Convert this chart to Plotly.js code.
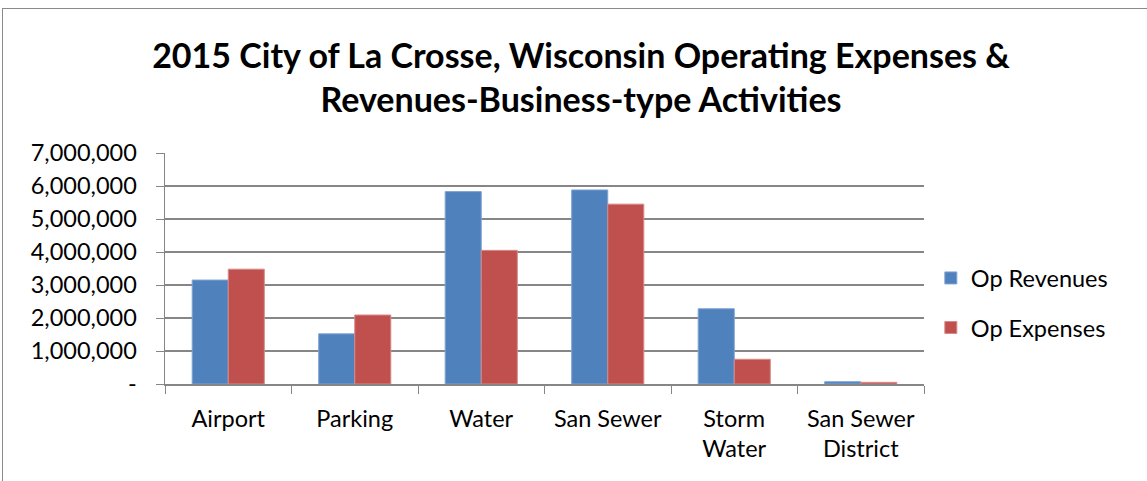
<!DOCTYPE html>
<html>
<head>
<meta charset="utf-8">
<script src="https://cdn.plot.ly/plotly-3.0.1.min.js"></script>
<style>
html,body{margin:0;padding:0;background:#fff;overflow:hidden;}
#chart{width:1147px;height:481px;position:absolute;left:0;top:0;}
#frame{position:absolute;left:2px;top:8px;width:1200px;height:600px;border:1.5px solid #8a8a8a;pointer-events:none;}
</style>
</head>
<body>
<div id="chart"></div>
<div id="frame"></div>
<script>
const categories = ["Airport", "Parking", "Water", "San Sewer", "Storm<br>Water", "San Sewer<br>District"];
const opRevenues = [3150000, 1520000, 5830000, 5880000, 2280000, 70000];
const opExpenses = [3480000, 2090000, 4050000, 5450000, 750000, 50000];
const yTickVals = [0, 1000000, 2000000, 3000000, 4000000, 5000000, 6000000, 7000000];
const yTickText = ["-", "1,000,000", "2,000,000", "3,000,000", "4,000,000", "5,000,000", "6,000,000", "7,000,000"];
const titleText = "2015 City of La Crosse, Wisconsin Operating Expenses &<br>Revenues-Business-type Activities";

const FONT = "Lato, 'Open Sans', sans-serif";

const traces = [
  {type: "bar", name: "Op Revenues", x: categories, y: opRevenues,
   marker: {color: "#4F81BD", line: {color: "#7FA3D3", width: 1}}, legendgroup: "a"},
  {type: "bar", name: "Op Expenses", x: categories, y: opExpenses,
   marker: {color: "#C0504D", line: {color: "#D58A88", width: 1}}, legendgroup: "b"}
];

const layout = {
  width: 1147, height: 481,
  margin: {l: 165, r: 223, t: 153, b: 97},
  paper_bgcolor: "#fff", plot_bgcolor: "#fff",
  font: {family: FONT, size: 23.5, color: "#000"},
  title: {text: titleText, font: {family: FONT, size: 34, color: "#000", weight: "bold"},
          x: 581/1147, xanchor: "center", xref: "container", y: 1 - 67.5/481, yanchor: "middle", yref: "container"},
  barmode: "group", bargap: 0.43, bargroupgap: 0,
  xaxis: {type: "category", tickson: "boundaries", ticks: "outside", ticklen: 8, tickcolor: "#868686",
          showline: true, linecolor: "#868686", linewidth: 1.5, showgrid: false, ticklabelstandoff: 13,
          tickfont: {family: FONT, size: 23.5, color: "#000"}},
  yaxis: {range: [0, 7000000], tickvals: yTickVals, ticktext: yTickText, ticks: "outside", ticklen: 8,
          tickcolor: "#868686", showline: true, linecolor: "#868686", linewidth: 1.5, ticklabelstandoff: 14,
          showgrid: true, gridcolor: "#868686", gridwidth: 1.4, zeroline: false,
          tickfont: {family: FONT, size: 23.5, color: "#000"}},
  showlegend: true,
  legend: {x: 1.009, xanchor: "left", y: 0.35, yanchor: "middle", tracegroupgap: 16,
           font: {family: FONT, size: 23.5, color: "#000"}, itemwidth: 30, bgcolor: "rgba(0,0,0,0)"}
};

Plotly.newPlot("chart", traces, layout, {displayModeBar: false, staticPlot: true});
</script>
</body>
</html>
